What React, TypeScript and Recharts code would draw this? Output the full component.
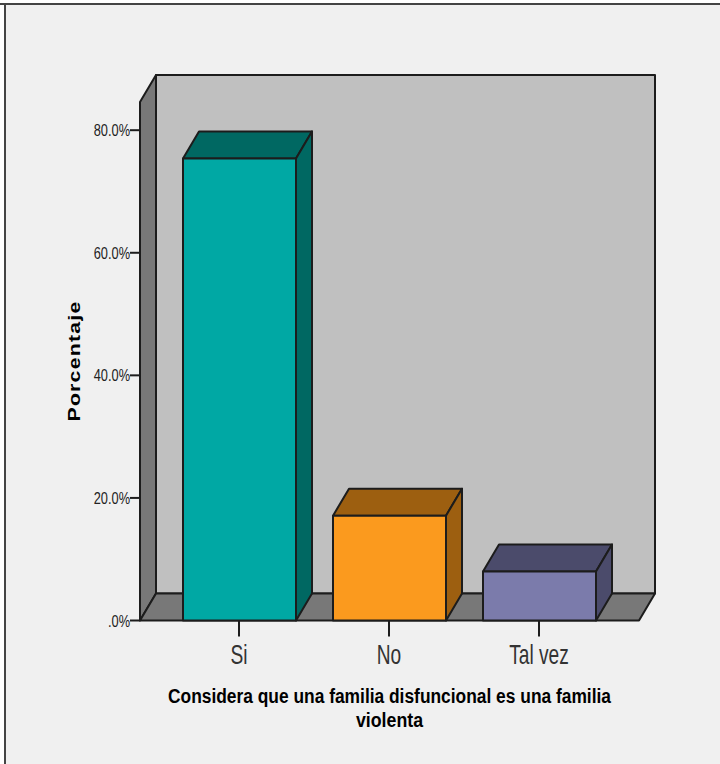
import { BarChart, Bar, XAxis, YAxis, usePlotArea } from "recharts";

const categories = ["Si", "No", "Tal vez"];
const percentages = [75.4, 17.1, 8.0];
const yTicks = [0, 20, 40, 60, 80];
const frontColors = ["#00a8a4", "#fb9a1e", "#7b7bab"];
const shadeColors = ["#006862", "#9d5f10", "#4b4b6b"];

const chartData = categories.map((name, i) => ({ name, value: percentages[i] }));

const DEPTH_X = 16;
const DEPTH_Y = 27;
const LINE = "#1c1c1c";
const FONT = "'Liberation Sans', Arial, sans-serif";

// back wall, side wall and floor sit behind the bars
function Walls() {
  const plot = usePlotArea();
  if (!plot) return null;
  const left = plot.x;
  const right = plot.x + plot.width;
  const top = plot.y;
  const bottom = plot.y + plot.height;
  const pts = (list: number[][]) => list.map((p) => p.join(",")).join(" ");
  return (
    <g stroke={LINE} strokeWidth={2} strokeLinejoin="round">
      <rect
        x={left + DEPTH_X}
        y={top - DEPTH_Y}
        width={right - left}
        height={bottom - top}
        fill="#c0c0c0"
      />
      <polygon
        fill="#787878"
        points={pts([
          [left, top],
          [left + DEPTH_X, top - DEPTH_Y],
          [left + DEPTH_X, bottom - DEPTH_Y],
          [left, bottom],
        ])}
      />
      <polygon
        fill="#787878"
        points={pts([
          [left, bottom],
          [left + DEPTH_X, bottom - DEPTH_Y],
          [right + DEPTH_X, bottom - DEPTH_Y],
          [right, bottom],
        ])}
      />
    </g>
  );
}

function Bar3D(props: any) {
  const { x, y, width, height, index } = props;
  const dark = shadeColors[index];
  const pts = (list: number[][]) => list.map((p) => p.join(",")).join(" ");
  return (
    <g stroke={LINE} strokeWidth={2} strokeLinejoin="round">
      <polygon
        fill={dark}
        points={pts([
          [x, y],
          [x + DEPTH_X, y - DEPTH_Y],
          [x + width + DEPTH_X, y - DEPTH_Y],
          [x + width, y],
        ])}
      />
      <polygon
        fill={dark}
        points={pts([
          [x + width, y],
          [x + width + DEPTH_X, y - DEPTH_Y],
          [x + width + DEPTH_X, y + height - DEPTH_Y],
          [x + width, y + height],
        ])}
      />
      <rect x={x} y={y} width={width} height={height} fill={frontColors[index]} />
    </g>
  );
}

function Titles() {
  const plot = usePlotArea();
  if (!plot) return null;
  const cx = plot.x + plot.width / 2;
  const bottom = plot.y + plot.height;
  return (
    <g fill="#000" fontWeight="bold" fontFamily={FONT}>
      <text
        x={cx}
        y={bottom + 82}
        textAnchor="middle"
        fontSize={20}
        textLength={443}
        lengthAdjust="spacingAndGlyphs"
      >
        Considera que una familia disfuncional es una familia
      </text>
      <text
        x={cx}
        y={bottom + 106}
        textAnchor="middle"
        fontSize={20}
        textLength={67}
        lengthAdjust="spacingAndGlyphs"
      >
        violenta
      </text>
      <text
        transform="translate(80 361) rotate(-90)"
        textAnchor="middle"
        fontSize={17}
        letterSpacing={1}
        textLength={121}
        lengthAdjust="spacingAndGlyphs"
      >
        Porcentaje
      </text>
    </g>
  );
}

function YTick(props: any) {
  const { x, y, payload } = props;
  const label = payload.value === 0 ? ".0%" : `${payload.value.toFixed(1)}%`;
  return (
    <text
      transform={`translate(${x} ${y + 6}) scale(0.8 1)`}
      textAnchor="end"
      fontFamily={FONT}
      fontSize={16}
      fill="#222"
    >
      {label}
    </text>
  );
}

function XTick(props: any) {
  const { x, y, payload } = props;
  return (
    <text
      transform={`translate(${x} ${y + 25}) scale(0.71 1)`}
      textAnchor="middle"
      fontFamily={FONT}
      fontSize={27}
      fill="#333"
    >
      {payload.value}
    </text>
  );
}

export default function App() {
  return (
    <div
      style={{
        position: "absolute",
        left: 0,
        top: 0,
        width: 720,
        height: 764,
        overflow: "hidden",
        background: "#f0f0f0",
      }}
    >
      <div
        style={{
          position: "absolute",
          left: 0,
          top: 0,
          width: 4,
          height: 764,
          background: "#fff",
          borderRight: "2px solid #444",
        }}
      />
      <div
        style={{
          position: "absolute",
          left: 0,
          top: 0,
          width: 720,
          height: 3,
          background: "#fff",
          borderBottom: "2px solid #444",
        }}
      />
      <div style={{ position: "absolute", left: 0, top: 0 }}>
        <BarChart
          width={720}
          height={764}
          data={chartData}
          margin={{ top: 102, right: 81, bottom: 0, left: 80 }}
        >
          <Walls />
          <XAxis
            dataKey="name"
            height={143.5}
            padding={{ left: 24, right: 25 }}
            tickSize={16}
            tickLine={{ stroke: LINE, strokeWidth: 2 }}
            axisLine={false}
            tick={<XTick />}
            interval={0}
          />
          <YAxis
            width={60}
            domain={[0, 84.6]}
            ticks={yTicks}
            tickSize={10}
            tickMargin={0}
            tickLine={{ stroke: LINE, strokeWidth: 2 }}
            axisLine={false}
            tick={<YTick />}
          />
          <Bar
            dataKey="value"
            barSize={113}
            shape={<Bar3D />}
            isAnimationActive={false}
          />
          <Titles />
        </BarChart>
      </div>
    </div>
  );
}
